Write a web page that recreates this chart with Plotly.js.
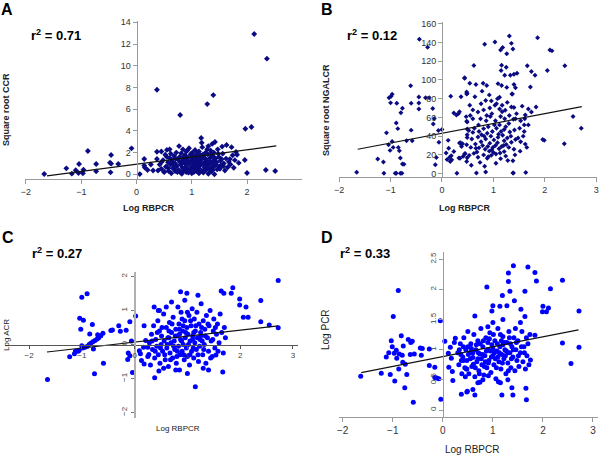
<!DOCTYPE html>
<html>
<head>
<meta charset="utf-8">
<script src="https://cdn.plot.ly/plotly-3.0.1.min.js"></script>
<style>html,body{margin:0;padding:0;background:#fff;}#chart{width:600px;height:455px;}</style>
</head>
<body>
<div id="chart"></div>
<script>
// ---------------- DATA ----------------
const xTicks = [-2, -1, 0, 1, 2, 3];
const yTicksA = [0, 2, 4, 6, 8, 10, 12, 14];
const yTicksB = [0, 20, 40, 60, 80, 100, 120, 140, 160];
const yTicksC = [-2, -1, 0, 1, 2];
const yTicksD = [0, 0.5, 1, 1.5, 2, 2.5];
const xTitle = "Log RBPCR";
const yTitles = ["Square root CCR", "Square root NGALCR", "Log ACR", "Log PCR"];
const panelLetters = ["A", "B", "C", "D"];
const r2Values = ["0.71", "0.12", "0.27", "0.33"];

// Panel A: Log RBPCR vs Square root CCR
const pointsA = [
[-1.67,0.03],[-1.27,0.55],[-1.17,0.06],[-1.10,0.37],[-1.04,0.95],[-1.05,0.12],[-0.96,0.42],[-0.97,0.10],[-0.88,2.15],[-0.73,0.95],
[-0.73,0.27],[-0.48,1.07],[-0.46,1.78],[-0.46,0.98],[-0.47,0.18],[-0.33,0.95],[-0.09,2.39],[0.06,0.02],[0.14,1.41],[0.14,0.80],
[0.15,0.63],[0.20,0.40],[0.26,0.90],[0.30,0.35],[0.37,2.08],[0.37,1.41],[0.39,0.35],[0.45,2.10],[0.45,1.10],[0.50,0.25],
[0.55,2.25],[0.55,1.60],[0.53,0.70],[2.13,12.92],[2.36,10.65],[0.37,7.79],[1.39,7.30],[1.28,6.47],[0.79,5.46],[1.97,4.20],
[2.08,4.36],[1.17,3.34],[1.18,2.91],[1.42,2.98],[1.37,2.80],[1.96,1.32],[2.00,0.12],[2.34,0.40],[2.51,0.30],
[0.42,0.9],[0.45,0.5],[0.48,1.3],[0.5,0.2],[0.52,1.8],[0.55,0.7],[0.57,1.1],[0.58,0.3],[0.6,1.5],[0.6,2.3],
[0.62,0.9],[0.63,0.1],[0.65,1.2],[0.66,0.55],[0.68,1.7],[0.7,0.3],[0.7,1.0],[0.72,2.0],[0.73,0.75],[0.75,1.35],
[0.76,0.4],[0.77,2.6],[0.78,1.6],[0.8,0.9],[0.8,0.15],[0.81,1.95],[0.82,1.2],[0.83,0.6],[0.84,2.3],[0.85,1.45],
[0.86,0.35],[0.87,1.0],[0.88,1.75],[0.89,0.7],[0.9,2.1],[0.9,0.2],[0.91,1.3],[0.92,0.5],[0.93,1.55],[0.94,0.95],
[0.95,2.4],[0.96,0.3],[0.97,1.15],[0.98,1.85],[0.99,0.65],[1.0,1.4],[1.0,0.1],[1.01,2.0],[1.02,0.85],[1.03,1.6],
[1.04,0.45],[1.05,1.1],[1.06,2.25],[1.07,0.7],[1.08,1.35],[1.09,1.9],[1.1,0.25],[1.1,1.0],[1.11,1.55],[1.12,0.55],
[1.13,2.1],[1.14,1.2],[1.15,0.8],[1.16,1.75],[1.17,0.35],[1.18,1.4],[1.19,2.5],[1.2,0.95],[1.21,0.15],[1.22,1.6],
[1.23,0.6],[1.24,1.15],[1.25,2.0],[1.26,0.4],[1.27,1.3],[1.28,0.8],[1.29,1.85],[1.3,0.05],[1.3,2.6],[1.31,1.05],
[1.32,0.5],[1.33,1.5],[1.34,2.2],[1.35,0.25],[1.36,0.95],[1.37,1.7],[1.38,0.6],[1.39,1.25],[1.4,2.0],[1.41,0.0],
[1.42,0.8],[1.43,1.45],[1.45,1.1],[1.46,0.45],[1.47,2.3],[1.49,1.6],[1.5,0.7],[1.52,1.25],[1.53,0.85],[1.55,2.55],
[1.56,1.9],[1.58,1.0],[1.6,0.35],[1.62,1.45],[1.63,2.7],[1.65,0.65],[1.67,1.15],[1.69,1.4],[1.7,0.9],[1.72,2.5],
[1.74,1.75],[1.76,0.6],[1.78,1.3],[1.8,2.05],[1.82,1.8],[1.85,1.05],
[0.62,1.9],[0.67,0.85],[0.71,1.45],[0.74,0.2],[0.79,1.1],[0.83,0.25],[0.86,1.65],[0.89,1.25],[0.92,2.2],[0.94,0.15],
[0.97,0.5],[1.0,1.75],[1.02,1.2],[1.04,0.2],[1.06,1.65],[1.09,0.55],[1.11,1.25],[1.13,0.1],[1.15,1.5],[1.17,0.95],
[1.2,1.8],[1.22,0.3],[1.24,1.45],[1.26,0.85],[1.28,2.3],[1.31,0.7],[1.33,1.15],[1.35,1.95],[1.38,0.4],[1.4,1.6],
[1.44,0.9],[1.48,1.9],[1.51,0.5],[1.54,1.4],[1.57,0.75],[0.58,0.55],[0.64,1.35],[0.69,0.6],[0.82,0.05],[0.96,1.05]
];
const fitAx = [-1.62, 2.53];
const fitAy = [-0.15, 2.62];

// Panel B: Log RBPCR vs Square root NGALCR
const pointsB = [
[-1.66,1.4],[-1.25,15.6],[-1.14,12.4],[-1.13,0.5],[-1.08,43.5],[-1.04,30.8],[-1.03,81],[-0.99,82.5],[-0.97,84.6],[-1.0,75.5],
[-1.01,24.8],[-0.97,34.3],[-0.95,28],[-0.91,0.5],[-0.89,0.5],[-0.89,54],[-0.88,75],[-0.86,48],[-0.85,28],[-0.83,24.5],
[-0.81,0.5],[-0.78,0.5],[-0.77,10.3],[-0.74,10],[-0.81,16.6],[-0.8,65],[-0.77,69.8],[-0.61,93.7],[-0.69,35],[-0.58,35],
[-0.6,46.4],[-0.6,75],[-0.45,69],[-0.45,75.4],[-0.45,81.7],[-0.44,143.3],[-0.28,134.8],[-0.32,81],[-0.25,81],[-0.18,69.4],
[-0.11,17.3],[-0.13,9.5],[-0.07,46],[-0.06,33.5],[-0.15,58.7],[0.0,47],[-0.17,53],
[0.17,82.5],[0.12,35.5],[0.13,27],[0.15,17.5],[0.19,14.7],[0.23,64.7],[0.29,0.5],[0.32,64],[0.34,66],[0.35,16.5],
[0.36,33],[0.38,31],[0.4,32],[0.44,101.6],[0.48,87],[0.49,85.5],[0.47,60.8],[0.48,56],[0.49,47.7],[0.49,38.5],
[0.45,21.6],[0.49,17],[0.08,22],[0.1,15],[0.18,19],[0.16,13],[0.23,23.7],[0.34,32.6],[0.38,29],[0.33,16.6],
[0.41,18.4],[0.28,62.6],[0.37,82],
[1.31,146.8],[1.03,140.5],[0.83,138],[1.35,139],[1.14,132],[1.18,134.5],[1.38,133],[1.26,128],[1.86,145],[2.1,132],
[2.14,131],[0.62,115.3],[1.16,115.7],[1.25,113.6],[1.66,115],[2.39,115],[2.05,110],[1.74,109],[1.81,105],[1.15,110],
[1.22,105],[1.4,106],[1.46,107],[1.33,105],[0.44,102.4],[0.54,96.5],[0.66,95],[0.8,96.5],[0.87,94],[1.09,96],
[1.16,94],[1.26,92],[1.4,95],[1.72,92.5],[1.36,85],[1.43,91.6],[0.92,84],[0.64,82],[0.48,85],[0.54,73],
[0.76,74.6],[0.85,78],[0.96,77.6],[1.03,73],[1.06,74.6],[1.12,81.5],[1.17,73],[1.27,76],[1.35,71],[1.4,70.5],
[1.23,67.6],[1.12,69],[0.81,68],[0.7,65.7],[1.68,69],[1.83,71],[1.74,65.7],[0.6,58.5],[0.49,55],[0.75,58.5],
[0.86,56.5],[0.94,61],[1.04,56.5],[1.14,61],[1.22,58.5],[1.3,53.5],[1.39,58],[1.43,58.5],[1.53,56.5],[1.62,62.6],
[1.61,58.5],[1.68,52],[0.52,46],[0.63,48.5],[0.72,45],[0.81,48],[0.9,50],[0.98,45],[1.06,48.5],[1.15,45],
[1.21,47],[1.32,44.5],[1.41,46.5],[1.51,48.5],[1.6,45],[1.58,40],[0.49,41.4],[0.58,37],[0.7,39],[0.76,34],
[0.85,37],[0.93,32.5],[1.01,36],[1.09,38.7],[1.21,35],[1.27,38],[1.35,33.5],[1.43,36.5],[1.53,34],[1.62,31.5],
[0.48,30.8],[0.56,28],[0.65,31.5],[0.72,27.5],[0.79,30],[0.84,26],[0.89,29],[0.97,25.5],[1.04,30],[1.11,26.5],
[1.16,29],[1.21,23.5],[1.3,28],[1.4,26],[1.96,36.5],[1.99,35.5],[0.44,21],[0.53,19.5],[0.62,21.6],[0.7,17.5],
[0.81,20],[0.88,16.5],[0.96,19.5],[1.05,21],[1.14,16],[1.24,18.7],[1.38,13.8],[2.38,31.8],[2.55,61],[2.71,48.5],
[0.83,7.9],[0.67,0.6],[0.85,1.8],[1.38,0.6],[1.39,0.6],[1.63,1.3],[0.48,13],[0.57,8.9],[0.92,24],[1.0,22.5],
[1.08,33],[0.95,40],[0.88,43],[1.18,41],[0.68,23],[0.77,41.5],[1.25,31],[1.12,52],[0.97,64],[0.6,68],
[0.55,62],[0.6,44],[0.66,27],[0.71,52],[0.74,12],[0.78,88],[0.82,40],[0.87,62],[0.9,18],[0.93,70],
[0.99,28],[1.02,52],[1.05,11],[1.08,80],[1.1,42],[1.13,22],[1.17,66],[1.2,30],[1.24,50],[1.28,14],
[1.31,62],[1.34,40],[1.37,85],[1.42,20],[1.45,64],[1.48,38],[1.52,24],[1.56,72],[1.6,52],[1.65,28]
];
const fitBx = [-1.64, 2.72];
const fitBy = [26, 71.4];

// Panel C: Log RBPCR vs Log ACR
const pointsC = [
[-1.65,-1.03],[-1.23,-0.36],[-1.14,-0.27],[-1.12,-0.2],[-1.07,-0.2],[-1.05,-0.17],[-1.0,1.39],[-0.9,1.49],[-1.04,0.77],[-0.97,0.71],
[-1.02,0.45],[-1.0,-0.04],[-0.98,-0.1],[-0.94,-0.08],[-0.9,-0.06],[-0.85,0.31],[-0.8,0.59],[-0.86,0.0],[-0.83,0.04],[-0.79,0.08],
[-0.75,0.12],[-0.71,0.16],[-0.68,0.2],[-0.64,0.26],[-0.6,0.33],[-0.78,-0.13],[-0.7,0.29],[-0.59,-0.55],[-0.76,-0.86],[-0.45,0.41],
[-0.42,0.43],[-0.3,0.55],[-0.27,0.39],[-0.16,0.42],[-0.09,0.67],[0.02,0.84],[-0.06,0.1],[-0.12,-0.25],[-0.13,-0.44],[-0.09,-0.33],
[-0.04,-0.82],[0.09,-0.18],[0.11,-0.27],[0.13,-0.47],[0.18,-0.57],[0.18,0.55],[0.17,-0.08],[0.21,0.12],[0.25,-0.08],[0.27,-0.29],
[2.72,1.88],[0.87,1.55],[0.99,1.51],[1.64,1.57],[1.69,1.51],[1.86,1.67],[1.83,1.51],[1.99,1.34],[1.99,1.16],[2.11,1.1],
[2.39,1.29],[2.06,0.8],[2.15,0.8],[2.39,0.67],[2.55,0.57],[2.72,0.49],[1.15,-1.24],[1.67,-0.81],[1.4,-0.75],[0.85,-0.75],
[0.38,-0.98],[0.46,-0.78],[1.54,-0.31],[0.37,1.1],[0.47,1.0],
[0.25,-0.35],[0.28,0.05],[0.3,-0.6],[0.32,0.3],[0.34,-0.15],[0.36,0.55],[0.38,-0.4],[0.4,0.15],[0.42,-0.05],[0.44,0.7],
[0.45,-0.3],[0.47,0.4],[0.48,-0.55],[0.5,0.0],[0.51,0.25],[0.53,-0.2],[0.55,0.9],[0.56,0.1],[0.58,-0.45],[0.6,0.5],
[0.61,-0.1],[0.63,0.2],[0.64,-0.65],[0.66,0.65],[0.67,-0.25],[0.69,0.05],[0.7,0.35],[0.72,-0.4],[0.73,0.8],[0.75,0.1],
[0.76,-0.15],[0.78,0.45],[0.79,-0.55],[0.8,0.25],[0.82,1.1],[0.83,-0.05],[0.84,0.6],[0.86,-0.3],[0.87,0.15],[0.88,0.95],
[0.9,-0.2],[0.91,0.4],[0.92,0.0],[0.94,-0.45],[0.95,0.7],[0.96,0.2],[0.98,-0.1],[0.99,0.5],[1.0,-0.35],[1.01,0.3],
[1.03,0.85],[1.04,-0.6],[1.05,0.1],[1.07,0.55],[1.08,-0.2],[1.09,1.05],[1.1,0.25],[1.12,-0.4],[1.13,0.75],[1.14,0.05],
[1.15,0.4],[1.17,-0.15],[1.18,0.95],[1.19,0.2],[1.21,-0.5],[1.22,0.6],[1.23,-0.05],[1.25,0.35],[1.26,1.2],[1.28,0.1],
[1.29,-0.3],[1.3,0.7],[1.32,0.0],[1.33,0.45],[1.35,-0.55],[1.36,0.85],[1.38,0.2],[1.4,-0.2],[1.41,0.55],[1.43,1.0],
[1.45,0.1],[1.47,-0.35],[1.49,0.4],[1.5,0.75],[1.52,-0.1],[1.55,0.3],[1.57,0.6],[1.6,0.05],[1.62,0.9],[1.65,0.35],
[1.68,-0.25],[1.7,0.5],[1.72,0.2],[0.6,1.1],[0.7,1.25],[0.95,1.3],[1.2,1.45],[0.45,1.0],[1.3,-0.7],[0.78,-0.75],
[1.0,-0.85],[0.55,-0.7],[1.1,0.15],[0.85,0.3],[0.65,0.2],[1.25,0.25],[0.92,0.55],[1.05,-0.3],
[0.33,0.1],[0.39,-0.2],[0.43,0.35],[0.49,-0.1],[0.52,0.5],[0.57,-0.3],[0.62,0.0],[0.68,-0.45],[0.71,0.6],[0.74,-0.05],
[0.77,0.25],[0.81,-0.2],[0.85,0.45],[0.89,0.1],[0.93,-0.3],[0.97,0.35],[1.02,0.0],[1.06,0.7],[1.11,-0.1],[1.16,0.55],
[1.2,-0.3],[1.24,0.15],[1.27,0.5],[1.31,-0.15],[1.34,0.25],[1.39,0.6],[1.44,-0.4],[1.48,0.15],[1.53,0.5],[1.58,-0.2],
[0.9,0.75],[1.0,0.95],[0.65,0.4],[1.12,0.35],[0.8,-0.35]
];
const fitCx = [-1.66, 2.72];
const fitCy = [-0.22, 0.55];

// Panel D: Log RBPCR vs Log PCR
const pointsD = [
[-1.64,0.56],[-1.23,0.61],[-1.05,0.59],[-0.96,0.48],[-0.89,1.98],[-0.99,1.55],[-0.76,0.37],[-0.59,0.13],[-1.13,0.88],[-1.08,0.95],
[-1.03,1.15],[-1.01,1.05],[-0.97,0.94],[-0.93,0.99],[-0.92,0.86],[-0.87,0.93],[-0.83,1.23],[-0.79,1.06],[-0.8,0.79],[-0.75,0.76],
[-0.88,0.68],[-0.81,0.91],[-0.72,0.59],[-0.69,1.17],[-0.61,1.14],[-0.64,1.12],[-0.65,0.92],[-0.57,0.93],[-0.45,1.03],[-0.41,1.02],
[-0.27,1.01],[-0.43,0.91],[-0.27,0.74],[-0.16,0.71],[-0.16,0.54],[-0.12,0.53],[-0.05,1.48],[-0.08,0.52],[-0.04,0.18],[0.04,1.14],
[0.11,0.94],[0.12,0.71],[0.17,0.86],[0.19,0.64],[0.23,1.12],[0.25,1.19],[0.15,1.04],[0.2,0.49],[0.36,0.92],[0.41,0.82],
[0.37,0.26],[0.49,0.31],[0.48,0.68],
[1.41,2.39],[1.7,2.37],[1.84,2.28],[1.31,2.27],[1.87,2.14],[2.39,2.15],[0.88,2.04],[1.31,2.13],[1.34,1.97],[1.64,1.97],
[2.15,2.01],[1.19,1.9],[1.43,1.81],[1.0,1.73],[1.14,1.72],[1.28,1.73],[1.56,1.67],[2.0,1.72],[2.11,1.69],[1.99,1.63],
[2.07,1.63],[0.98,1.64],[2.72,1.64],[1.64,1.55],[0.64,1.56],[2.56,0.77],[2.72,1.04],[2.39,1.11],[1.84,1.24],[1.75,0.83],
[1.66,0.36],[1.67,0.17],[1.38,0.37],[1.4,0.25],[1.18,0.25],[1.11,0.47],[0.64,0.25],[0.6,0.34],[0.74,0.46],[0.48,0.3],
[0.91,0.57],
[0.3,0.95],[0.32,0.75],[0.35,1.1],[0.38,0.6],[0.4,0.88],[0.42,1.2],[0.44,0.7],[0.46,1.0],[0.48,0.82],[0.5,1.3],
[0.52,0.6],[0.54,0.95],[0.56,1.1],[0.58,0.72],[0.6,0.87],[0.62,1.25],[0.64,0.55],[0.66,1.0],[0.68,0.8],[0.7,1.15],
[0.72,0.65],[0.74,0.93],[0.76,1.35],[0.78,0.75],[0.8,1.05],[0.82,0.58],[0.84,0.9],[0.86,1.2],[0.88,0.7],[0.9,1.0],
[0.92,0.82],[0.94,1.28],[0.96,0.62],[0.98,1.08],[1.0,0.9],[1.02,0.75],[1.04,1.15],[1.06,0.52],[1.08,0.98],[1.1,1.35],
[1.12,0.8],[1.14,1.05],[1.16,0.68],[1.18,0.92],[1.2,1.22],[1.22,0.85],[1.24,1.0],[1.26,0.6],[1.28,1.12],[1.3,0.78],
[1.32,1.3],[1.34,0.95],[1.36,0.7],[1.38,1.05],[1.4,0.88],[1.42,1.2],[1.44,0.65],[1.46,1.0],[1.48,0.82],[1.5,1.15],
[1.52,0.72],[1.55,0.95],[1.58,1.3],[1.6,0.8],[1.62,1.05],[1.65,0.68],[1.68,0.9],[1.7,1.1],[1.72,0.75],[1.74,1.25],
[0.5,1.05],[0.6,0.95],[0.7,0.85],[0.8,0.92],[0.9,1.12],[1.0,1.02],[1.1,0.88],[1.2,1.08],[1.3,0.95],[0.75,1.1],
[0.85,0.8],[0.95,0.98],[1.05,0.85],[1.15,1.25],[1.25,0.9],[0.65,0.7],[0.55,0.85],[1.35,1.1],[0.45,0.55],[1.45,1.35],
[1.0,1.45],[1.2,1.5],[0.9,1.38],[1.55,1.45],[0.8,0.5],[1.15,0.45],[1.3,0.5],[0.7,0.45],
[0.33,1.0],[0.37,0.82],[0.41,1.05],[0.47,0.68],[0.51,0.92],[0.57,1.02],[0.61,0.76],[0.67,1.08],[0.71,0.95],[0.73,0.6],
[0.77,0.85],[0.81,1.15],[0.83,0.72],[0.87,0.98],[0.91,0.78],[0.93,1.18],[0.97,0.88],[1.01,1.25],[1.03,0.95],[1.07,0.7],
[1.09,1.1],[1.13,0.95],[1.17,1.15],[1.19,0.78],[1.23,1.12],[1.27,0.98],[1.31,0.65],[1.33,1.2],[1.37,0.85],[1.41,1.0],
[1.47,1.12],[1.51,0.9],[1.57,1.05],[1.63,0.95],[1.67,1.2]
];
const fitDx = [-1.63, 2.71];
const fitDy = [0.62, 1.33];

// ---------------- LAYOUT HELPERS (pixel geometry) ----------------
const W = 600, H = 455;
const px = v => v / W;
const py = v => 1 - v / H;
const FONT = "Liberation Sans, Arial, Helvetica, sans-serif";

function pts(arr, i) { return arr.map(p => p[i]); }

const navy = "#0a0a82";
const blue = "#0000ff";

const traces = [
  {x: pts(pointsA,0), y: pts(pointsA,1), xaxis:'x', yaxis:'y', mode:'markers', type:'scatter',
   marker:{symbol:'diamond', size:4.5, color:navy}},
  {x: fitAx, y: fitAy, xaxis:'x', yaxis:'y', mode:'lines', type:'scatter', line:{color:'#111', width:1.2}},
  {x: pts(pointsB,0), y: pts(pointsB,1), xaxis:'x2', yaxis:'y2', mode:'markers', type:'scatter',
   marker:{symbol:'diamond', size:3.8, color:navy}},
  {x: fitBx, y: fitBy, xaxis:'x2', yaxis:'y2', mode:'lines', type:'scatter', line:{color:'#111', width:1.2}},
  {x: pts(pointsC,0), y: pts(pointsC,1), xaxis:'x3', yaxis:'y3', mode:'markers', type:'scatter',
   marker:{symbol:'circle', size:5, color:blue}},
  {x: fitCx, y: fitCy, xaxis:'x3', yaxis:'y3', mode:'lines', type:'scatter', line:{color:'#111', width:1.2}},
  {x: pts(pointsD,0), y: pts(pointsD,1), xaxis:'x4', yaxis:'y4', mode:'markers', type:'scatter',
   marker:{symbol:'circle', size:5, color:blue}},
  {x: fitDx, y: fitDy, xaxis:'x4', yaxis:'y4', mode:'lines', type:'scatter', line:{color:'#111', width:1.2}}
];

const baseAx = {showgrid:false, zeroline:false, showline:true, linecolor:'#9a9a9a', linewidth:1,
  ticks:'outside', ticklen:4, tickcolor:'#9a9a9a', fixedrange:true,
  tickfont:{family:FONT, size:9, color:'#333'}};

const layout = {
  width: W, height: H,
  margin:{l:0, r:0, t:0, b:0},
  paper_bgcolor:'#fff', plot_bgcolor:'rgba(0,0,0,0)',
  showlegend:false,
  font:{family:FONT},
  // Panel A
  xaxis: Object.assign({}, baseAx, {domain:[px(25), px(302)], range:[-2.018, 2.995], anchor:'y', tickvals:xTicks}),
  yaxis: Object.assign({}, baseAx, {domain:[py(179), py(20.7)], range:[-0.433, 14.15], anchor:'free', position:px(136.5), tickvals:yTicksA}),
  // Panel B
  xaxis2: Object.assign({}, baseAx, {domain:[px(339), px(597)], range:[-2.004, 3.016], anchor:'y2', tickvals:xTicks}),
  yaxis2: Object.assign({}, baseAx, {domain:[py(177), py(21.7)], range:[-3.6, 162.1], anchor:'free', position:px(442), tickvals:yTicksB}),
  // Panel C
  xaxis3: Object.assign({}, baseAx, {domain:[px(5), px(298)], range:[-2.455, 3.095], anchor:'free', position:py(344.5),
     tickvals:xTicks, linecolor:'#555', tickcolor:'#555', ticklen:3, tickfont:{family:FONT, size:8, color:'#444'}}),
  yaxis3: Object.assign({}, baseAx, {domain:[py(418), py(271.7)], range:[-2.16, 2.14], anchor:'free', position:px(134.6),
     tickvals:yTicksC, linecolor:'#b0b0b0', linewidth:2, tickcolor:'#777', ticklen:3, tickangle:-90,
     tickfont:{family:FONT, size:8, color:'#444'}}),
  // Panel D
  xaxis4: Object.assign({}, baseAx, {domain:[px(339), px(598)], range:[-2.074, 3.1], anchor:'y4', tickvals:xTicks,
     tickfont:{family:FONT, size:10, color:'#333'}}),
  yaxis4: Object.assign({}, baseAx, {domain:[py(416.7), py(251.7)], range:[-0.111, 2.625], anchor:'free', position:px(442.8),
     tickvals:yTicksD, tickangle:-90, tickfont:{family:FONT, size:8, color:'#444'}}),
  annotations: []
};

// panel letters
const letterPos = [[7,9],[327,9],[8,237],[327,237]];
panelLetters.forEach((t,i) => layout.annotations.push({
  text:'<b>'+t+'</b>', x:px(letterPos[i][0]), y:py(letterPos[i][1]), xref:'paper', yref:'paper',
  showarrow:false, xanchor:'center', yanchor:'middle', font:{family:FONT, size:16, color:'#000'}}));

// r^2 labels
const r2Pos = [[56,35],[372,35],[57,253],[365,253]];
r2Values.forEach((v,i) => layout.annotations.push({
  text:'<b>r<sup>2</sup> = '+v+'</b>', x:px(r2Pos[i][0]), y:py(r2Pos[i][1]), xref:'paper', yref:'paper',
  showarrow:false, xanchor:'center', yanchor:'middle', font:{family:FONT, size:13, color:'#000'}}));

// axis titles
const xtPos = [[148,208,true,9],[464,208,true,9],[178,428,false,8],[472,449,false,10]];
xtPos.forEach(p => layout.annotations.push({
  text: p[2] ? '<b>'+xTitle+'</b>' : xTitle, x:px(p[0]), y:py(p[1]), xref:'paper', yref:'paper',
  showarrow:false, xanchor:'center', yanchor:'middle', font:{family:FONT, size:p[3], color:'#222'}}));
const ytPos = [[6,110,true,9],[326,110,true,9],[6,335,false,8],[325,330,false,10]];
ytPos.forEach((p,i) => layout.annotations.push({
  text: p[2] ? '<b>'+yTitles[i]+'</b>' : yTitles[i], x:px(p[0]), y:py(p[1]), xref:'paper', yref:'paper', textangle:-90,
  showarrow:false, xanchor:'center', yanchor:'middle', font:{family:FONT, size:p[3], color:'#222'}}));

Plotly.newPlot('chart', traces, layout, {staticPlot:true, displayModeBar:false});
</script>
</body>
</html>
